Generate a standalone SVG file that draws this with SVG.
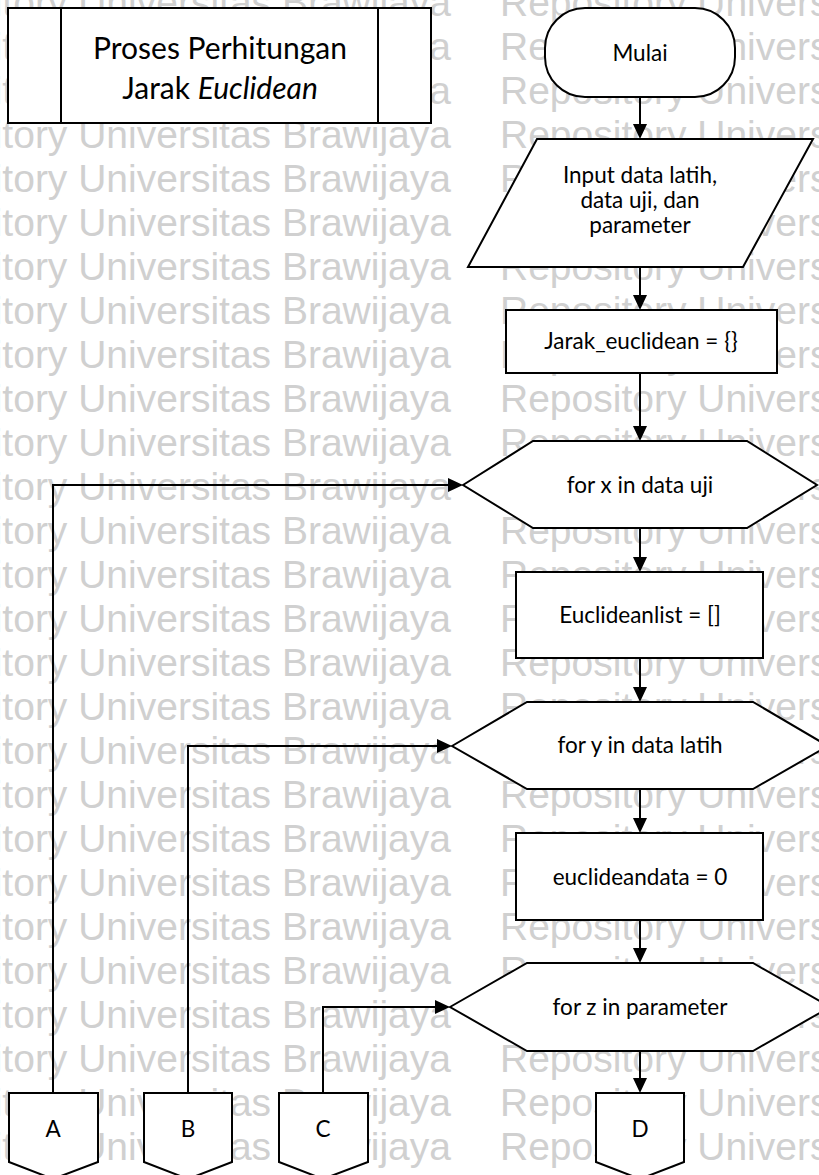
<svg xmlns="http://www.w3.org/2000/svg" width="819" height="1175" viewBox="0 0 819 1175">
  <style>
    .wm { font-family: "Liberation Sans", Arial, sans-serif; font-size: 39px; fill: #d0d0d0; }
    .shape { fill: #ffffff; stroke: #000000; stroke-width: 2; }
    .lbl { font-family: Lato, "Open Sans", sans-serif; font-size: 22.5px; fill: #000000; text-anchor: middle; }
    .title { font-family: Lato, "Open Sans", sans-serif; font-size: 30px; fill: #000000; text-anchor: middle; }
    .conn { fill: none; stroke: #000000; stroke-width: 2; }
  </style>
  <defs>
    <marker id="arrow" markerUnits="userSpaceOnUse" markerWidth="16" markerHeight="14" refX="13" refY="7" orient="auto">
      <path d="M0,0 L15,7 L0,14 Z" fill="#000000"/>
    </marker>
  </defs>

  <rect x="0" y="0" width="819" height="1175" fill="#ffffff"/>

  <!-- page watermark rows -->
  <g id="watermark">
    <text class="wm" x="451" y="16" text-anchor="end">Repository Universitas Brawijaya</text>
    <text class="wm" x="500" y="16">Repository Universitas Brawijaya</text>
    <text class="wm" x="451" y="60" text-anchor="end">Repository Universitas Brawijaya</text>
    <text class="wm" x="500" y="60">Repository Universitas Brawijaya</text>
    <text class="wm" x="451" y="104" text-anchor="end">Repository Universitas Brawijaya</text>
    <text class="wm" x="500" y="104">Repository Universitas Brawijaya</text>
    <text class="wm" x="451" y="148" text-anchor="end">Repository Universitas Brawijaya</text>
    <text class="wm" x="500" y="148">Repository Universitas Brawijaya</text>
    <text class="wm" x="451" y="192" text-anchor="end">Repository Universitas Brawijaya</text>
    <text class="wm" x="500" y="192">Repository Universitas Brawijaya</text>
    <text class="wm" x="451" y="236" text-anchor="end">Repository Universitas Brawijaya</text>
    <text class="wm" x="500" y="236">Repository Universitas Brawijaya</text>
    <text class="wm" x="451" y="280" text-anchor="end">Repository Universitas Brawijaya</text>
    <text class="wm" x="500" y="280">Repository Universitas Brawijaya</text>
    <text class="wm" x="451" y="324" text-anchor="end">Repository Universitas Brawijaya</text>
    <text class="wm" x="500" y="324">Repository Universitas Brawijaya</text>
    <text class="wm" x="451" y="368" text-anchor="end">Repository Universitas Brawijaya</text>
    <text class="wm" x="500" y="368">Repository Universitas Brawijaya</text>
    <text class="wm" x="451" y="412" text-anchor="end">Repository Universitas Brawijaya</text>
    <text class="wm" x="500" y="412">Repository Universitas Brawijaya</text>
    <text class="wm" x="451" y="456" text-anchor="end">Repository Universitas Brawijaya</text>
    <text class="wm" x="500" y="456">Repository Universitas Brawijaya</text>
    <text class="wm" x="451" y="500" text-anchor="end">Repository Universitas Brawijaya</text>
    <text class="wm" x="500" y="500">Repository Universitas Brawijaya</text>
    <text class="wm" x="451" y="544" text-anchor="end">Repository Universitas Brawijaya</text>
    <text class="wm" x="500" y="544">Repository Universitas Brawijaya</text>
    <text class="wm" x="451" y="588" text-anchor="end">Repository Universitas Brawijaya</text>
    <text class="wm" x="500" y="588">Repository Universitas Brawijaya</text>
    <text class="wm" x="451" y="632" text-anchor="end">Repository Universitas Brawijaya</text>
    <text class="wm" x="500" y="632">Repository Universitas Brawijaya</text>
    <text class="wm" x="451" y="676" text-anchor="end">Repository Universitas Brawijaya</text>
    <text class="wm" x="500" y="676">Repository Universitas Brawijaya</text>
    <text class="wm" x="451" y="720" text-anchor="end">Repository Universitas Brawijaya</text>
    <text class="wm" x="500" y="720">Repository Universitas Brawijaya</text>
    <text class="wm" x="451" y="764" text-anchor="end">Repository Universitas Brawijaya</text>
    <text class="wm" x="500" y="764">Repository Universitas Brawijaya</text>
    <text class="wm" x="451" y="808" text-anchor="end">Repository Universitas Brawijaya</text>
    <text class="wm" x="500" y="808">Repository Universitas Brawijaya</text>
    <text class="wm" x="451" y="852" text-anchor="end">Repository Universitas Brawijaya</text>
    <text class="wm" x="500" y="852">Repository Universitas Brawijaya</text>
    <text class="wm" x="451" y="896" text-anchor="end">Repository Universitas Brawijaya</text>
    <text class="wm" x="500" y="896">Repository Universitas Brawijaya</text>
    <text class="wm" x="451" y="940" text-anchor="end">Repository Universitas Brawijaya</text>
    <text class="wm" x="500" y="940">Repository Universitas Brawijaya</text>
    <text class="wm" x="451" y="984" text-anchor="end">Repository Universitas Brawijaya</text>
    <text class="wm" x="500" y="984">Repository Universitas Brawijaya</text>
    <text class="wm" x="451" y="1028" text-anchor="end">Repository Universitas Brawijaya</text>
    <text class="wm" x="500" y="1028">Repository Universitas Brawijaya</text>
    <text class="wm" x="451" y="1072" text-anchor="end">Repository Universitas Brawijaya</text>
    <text class="wm" x="500" y="1072">Repository Universitas Brawijaya</text>
    <text class="wm" x="451" y="1116" text-anchor="end">Repository Universitas Brawijaya</text>
    <text class="wm" x="500" y="1116">Repository Universitas Brawijaya</text>
    <text class="wm" x="451" y="1160" text-anchor="end">Repository Universitas Brawijaya</text>
    <text class="wm" x="500" y="1160">Repository Universitas Brawijaya</text>
  </g>

  <!-- connectors -->
  <g id="connectors">
    <path class="conn" d="M640,97 V137" marker-end="url(#arrow)"/>
    <path class="conn" d="M640,267 V308" marker-end="url(#arrow)"/>
    <path class="conn" d="M640,373 V439" marker-end="url(#arrow)"/>
    <path class="conn" d="M640,528 V570" marker-end="url(#arrow)"/>
    <path class="conn" d="M640,658 V700" marker-end="url(#arrow)"/>
    <path class="conn" d="M640,789 V831" marker-end="url(#arrow)"/>
    <path class="conn" d="M640,920 V961" marker-end="url(#arrow)"/>
    <path class="conn" d="M640,1051 V1091" marker-end="url(#arrow)"/>
    <path class="conn" d="M53,1093 V485 H461" marker-end="url(#arrow)"/>
    <path class="conn" d="M188,1093 V746 H450" marker-end="url(#arrow)"/>
    <path class="conn" d="M323,1093 V1007 H448" marker-end="url(#arrow)"/>
  </g>

  <!-- predefined process title -->
  <g id="title">
    <rect class="shape" x="8" y="8" width="423" height="115"/>
    <line x1="61" y1="8" x2="61" y2="123" stroke="#000" stroke-width="2"/>
    <line x1="378" y1="8" x2="378" y2="123" stroke="#000" stroke-width="2"/>
    <text class="title" x="220" y="59">Proses Perhitungan</text>
    <text class="title" x="220" y="99">Jarak <tspan font-style="italic">Euclidean</tspan></text>
  </g>

  <g id="mulai">
    <rect class="shape" x="545" y="8" width="190" height="89" rx="40" ry="40"/>
    <text class="lbl" x="640" y="61">Mulai</text>
  </g>

  <g id="input">
    <polygon class="shape" points="537,139 813,139 743,267 468,267"/>
    <text class="lbl" x="640" y="183">Input data latih,</text>
    <text class="lbl" x="640" y="208">data uji, dan</text>
    <text class="lbl" x="640" y="233">parameter</text>
  </g>

  <g id="init-jarak">
    <rect class="shape" x="506" y="310" width="271" height="63"/>
    <text class="lbl" x="641" y="349">Jarak_euclidean = {}</text>
  </g>

  <g id="loop-x">
    <polygon class="shape" points="463,485 533,441 747,441 817,485 747,528 533,528"/>
    <text class="lbl" x="640" y="493">for x in data uji</text>
  </g>

  <g id="init-list">
    <rect class="shape" x="516" y="572" width="247" height="86"/>
    <text class="lbl" x="640" y="623">Euclideanlist = []</text>
  </g>

  <g id="loop-y">
    <polygon class="shape" points="452,746 527,702 753,702 828,746 753,789 527,789"/>
    <text class="lbl" x="640" y="753">for y in data latih</text>
  </g>

  <g id="init-data">
    <rect class="shape" x="516" y="833" width="247" height="87"/>
    <text class="lbl" x="640" y="885">euclideandata = 0</text>
  </g>

  <g id="loop-z">
    <polygon class="shape" points="450,1007 527,963 753,963 830,1007 753,1051 527,1051"/>
    <text class="lbl" x="640" y="1015">for z in parameter</text>
  </g>

  <!-- off-page references -->
  <g id="ref-a">
    <polygon class="shape" points="9,1093 98,1093 98,1162 53,1179 9,1162"/>
    <text class="lbl" x="53" y="1137">A</text>
  </g>
  <g id="ref-b">
    <polygon class="shape" points="144,1093 232,1093 232,1162 188,1179 144,1162"/>
    <text class="lbl" x="188" y="1137">B</text>
  </g>
  <g id="ref-c">
    <polygon class="shape" points="279,1093 368,1093 368,1162 323,1179 279,1162"/>
    <text class="lbl" x="323" y="1137">C</text>
  </g>
  <g id="ref-d">
    <polygon class="shape" points="596,1093 684,1093 684,1162 640,1179 596,1162"/>
    <text class="lbl" x="640" y="1137">D</text>
  </g>
</svg>
